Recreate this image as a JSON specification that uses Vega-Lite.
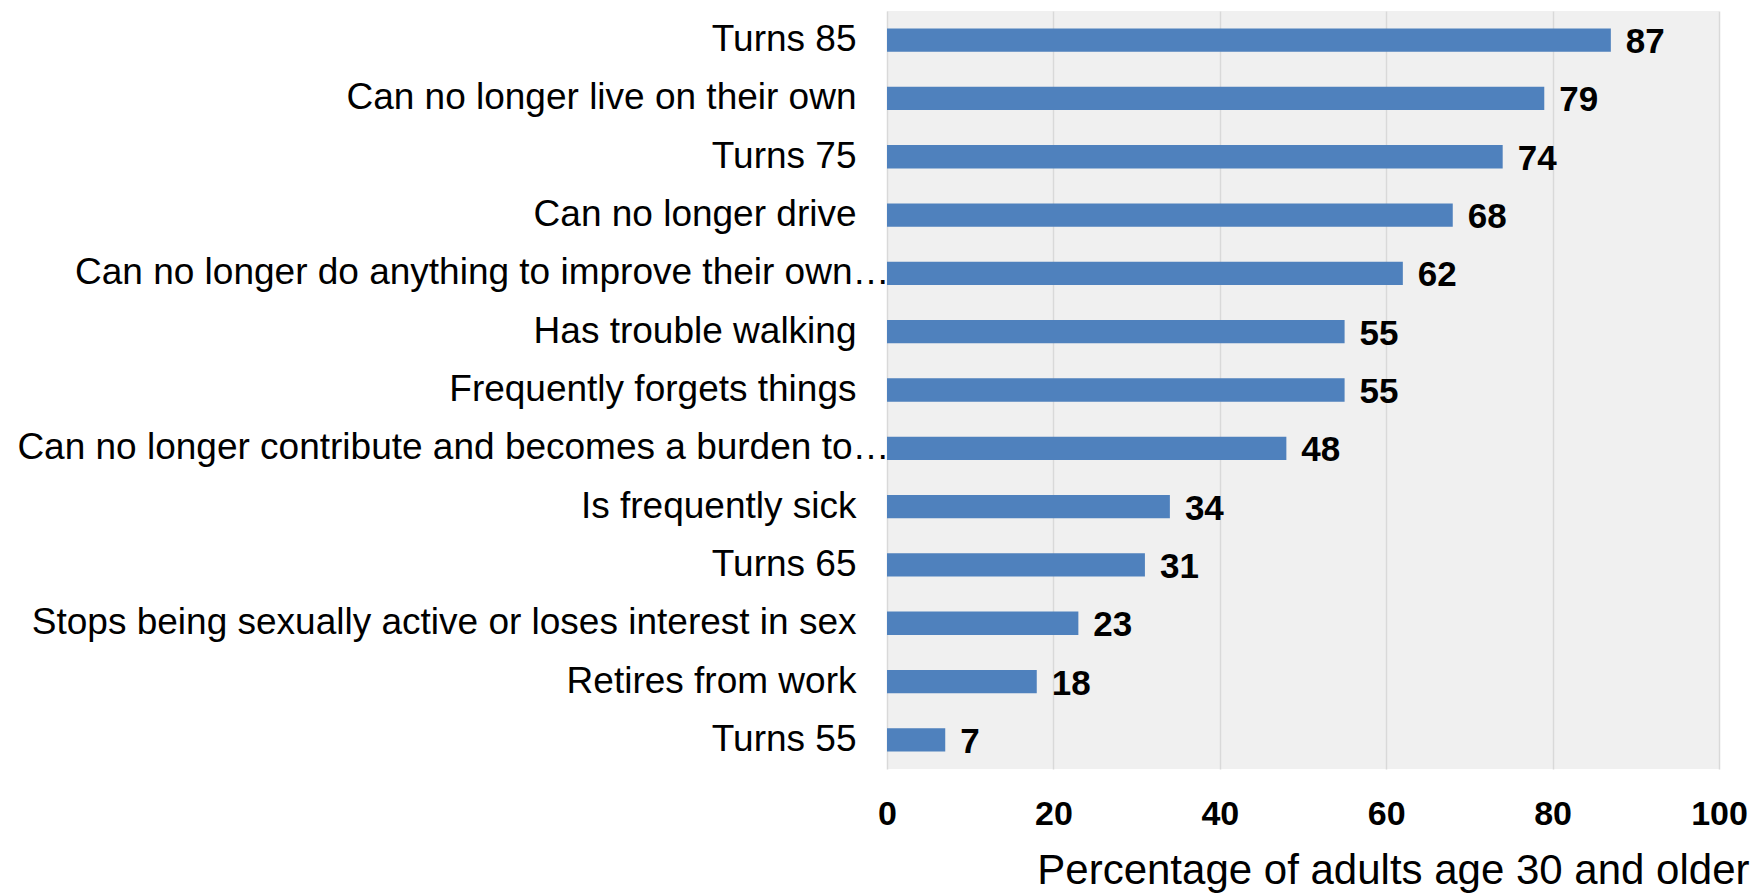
{
  "$schema": "https://vega.github.io/schema/vega-lite/v6.json",
  "width": 832,
  "height": 758,
  "autosize": "none",
  "padding": {"left": 887, "top": 11, "right": 35, "bottom": 124},
  "background": "white",
  "config": {
    "font": "Liberation Sans",
    "view": {"fill": "#F0F0F0", "stroke": null}
  },
  "data": {
    "values": [
      {"item": "Turns 85", "pct": 87},
      {"item": "Can no longer live on their own", "pct": 79},
      {"item": "Turns 75", "pct": 74},
      {"item": "Can no longer drive", "pct": 68},
      {"item": "Can no longer do anything to improve their own…", "pct": 62},
      {"item": "Has trouble walking", "pct": 55},
      {"item": "Frequently forgets things", "pct": 55},
      {"item": "Can no longer contribute and becomes a burden to…", "pct": 48},
      {"item": "Is frequently sick", "pct": 34},
      {"item": "Turns 65", "pct": 31},
      {"item": "Stops being sexually active or loses interest in sex", "pct": 23},
      {"item": "Retires from work", "pct": 18},
      {"item": "Turns 55", "pct": 7}
    ]
  },
  "encoding": {
    "y": {
      "field": "item",
      "type": "nominal",
      "sort": null,
      "scale": {"paddingInner": 0.6, "paddingOuter": 0.3},
      "axis": {
        "title": null,
        "ticks": false,
        "domain": false,
        "labelFontSize": 37,
        "labelColor": "black",
        "labelPadding": {"condition": {"test": "indexof(datum.value, '…') >= 0", "value": -2}, "value": 31},
        "labelLimit": 1000
      }
    },
    "x": {
      "field": "pct",
      "type": "quantitative",
      "scale": {"domain": [0, 100]},
      "axis": {
        "values": [0, 20, 40, 60, 80, 100],
        "title": "Percentage of adults age 30 and older",
        "titleFontSize": 42,
        "titleFontWeight": "normal",
        "titleColor": "black",
        "titleAnchor": null,
        "titleAlign": "right",
        "titleBaseline": "alphabetic",
        "titleX": 862,
        "titleY": 114,
        "ticks": false,
        "domain": false,
        "grid": true,
        "gridColor": "#D9D9D9",
        "gridWidth": 1.5,
        "labelFontSize": 34,
        "labelFontWeight": "bold",
        "labelColor": "black",
        "labelPadding": 28,
        "labelFlush": false
      }
    }
  },
  "layer": [
    {"mark": {"type": "bar", "color": "#4F81BD"}},
    {
      "mark": {"type": "text", "align": "left", "baseline": "middle", "dx": 15, "dy": 2, "fontSize": 35, "fontWeight": "bold", "color": "black"},
      "encoding": {"text": {"field": "pct", "type": "quantitative"}}
    }
  ]
}
